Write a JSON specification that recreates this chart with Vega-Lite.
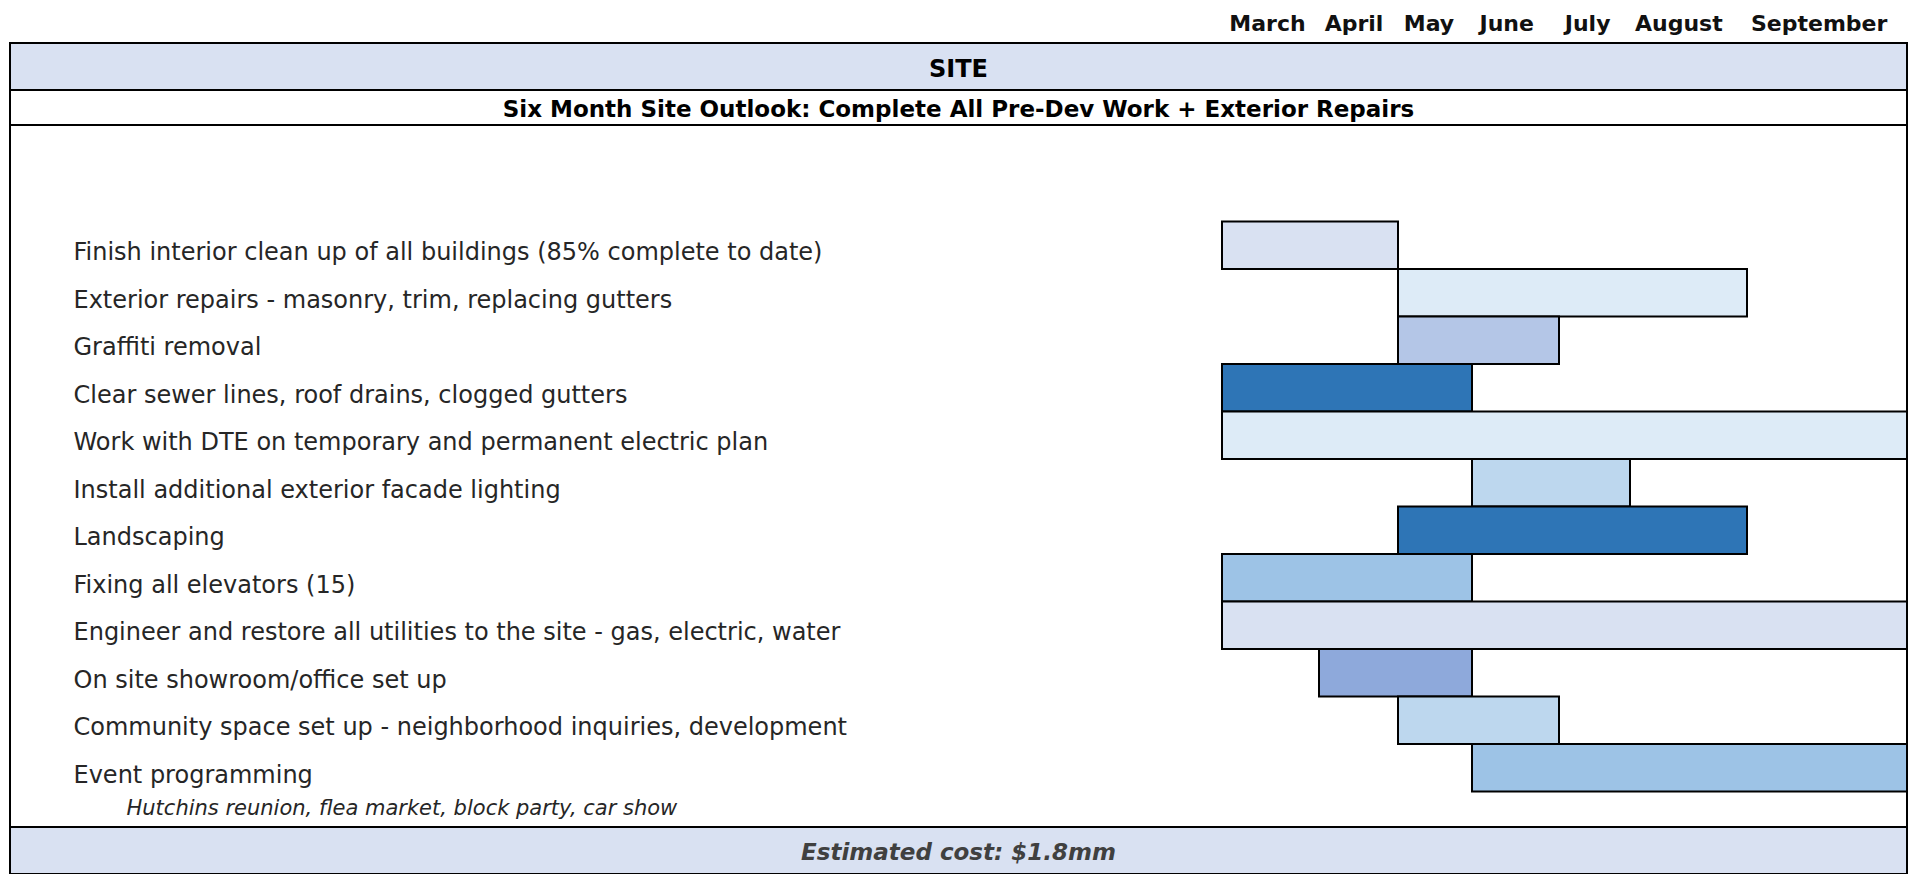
{
  "$schema": "https://vega.github.io/schema/vega-lite/v6.json",
  "padding": {"left": 9, "top": 0, "right": 0, "bottom": 0},
  "background": "white",
  "spacing": 0,
  "bounds": "flush",
  "datasets": {
    "months": [
      {"month": "March", "num": 3},
      {"month": "April", "num": 4},
      {"month": "May", "num": 5},
      {"month": "June", "num": 6},
      {"month": "July", "num": 7},
      {"month": "August", "num": 8},
      {"month": "September", "num": 9}
    ],
    "headers": [
      {"part": "section", "text": "SITE"},
      {"part": "subtitle", "text": "Six Month Site Outlook: Complete All Pre-Dev Work + Exterior Repairs"},
      {"part": "footer", "text": "Estimated cost: $1.8mm"}
    ],
    "tasks": [
      {"task": "Finish interior clean up of all buildings (85% complete to date)", "start": 3, "end": 5, "tone": "accent1-80", "note": ""},
      {"task": "Exterior repairs  - masonry,  trim, replacing gutters", "start": 5, "end": 9, "tone": "accent5-80", "note": ""},
      {"task": "Graffiti removal", "start": 5, "end": 7, "tone": "accent1-60", "note": ""},
      {"task": "Clear sewer lines, roof drains, clogged gutters", "start": 3, "end": 6, "tone": "accent5-dark", "note": ""},
      {"task": "Work with DTE on temporary and permanent electric plan", "start": 3, "end": 10, "tone": "accent5-80", "note": ""},
      {"task": "Install additional exterior facade lighting", "start": 6, "end": 8, "tone": "accent5-60", "note": ""},
      {"task": "Landscaping", "start": 5, "end": 9, "tone": "accent5-dark", "note": ""},
      {"task": "Fixing all elevators (15)", "start": 3, "end": 6, "tone": "accent5-40", "note": ""},
      {"task": "Engineer and restore all utilities to the site  - gas, electric, water", "start": 3, "end": 10, "tone": "accent1-80", "note": ""},
      {"task": "On site showroom/office set up", "start": 4, "end": 6, "tone": "accent1-40", "note": ""},
      {"task": "Community space set up - neighborhood inquiries, development", "start": 5, "end": 7, "tone": "accent5-60", "note": ""},
      {"task": "Event programming", "start": 6, "end": 10, "tone": "accent5-40", "note": "Hutchins reunion, flea market, block party, car show"}
    ]
  },
  "vconcat": [
    {
      "width": 1897,
      "height": 43,
      "data": {"name": "months"},
      "mark": {"type": "text", "font": "DejaVu Sans", "fontWeight": "bold", "fontSize": 22, "baseline": "alphabetic", "dy": 9, "color": "#111111"},
      "encoding": {
        "x": {"field": "num", "type": "quantitative", "axis": null,
              "scale": {"domain": [3, 4, 5, 6, 7, 8, 9], "range": [1257.5, 1344, 1419, 1496.7, 1577.6, 1668.8, 1809.2], "nice": false, "zero": false}},
        "text": {"field": "month"}
      },
      "view": {"stroke": null}
    },
    {
      "width": 1897,
      "height": 47,
      "data": {"name": "headers"},
      "transform": [{"filter": "datum.part == 'section'"}],
      "mark": {"type": "text", "font": "DejaVu Sans", "fontWeight": "bold", "fontSize": 24, "baseline": "alphabetic", "dy": 10, "color": "#000000"},
      "encoding": {"text": {"field": "text"}},
      "view": {"fill": "#D9E1F2", "stroke": "#000000", "strokeWidth": 2}
    },
    {
      "width": 1897,
      "height": 35,
      "data": {"name": "headers"},
      "transform": [{"filter": "datum.part == 'subtitle'"}],
      "mark": {"type": "text", "font": "DejaVu Sans", "fontWeight": "bold", "fontSize": 23, "baseline": "alphabetic", "dy": 9, "color": "#000000"},
      "encoding": {"text": {"field": "text"}},
      "view": {"fill": "#FFFFFF", "stroke": "#000000", "strokeWidth": 2}
    },
    {
      "width": 1897,
      "height": 702,
      "data": {"name": "tasks"},
      "view": {"fill": "#FFFFFF", "stroke": "#000000", "strokeWidth": 2},
      "layer": [
        {
          "mark": {"type": "bar", "stroke": "#000000", "strokeWidth": 2},
          "encoding": {
            "y": {"field": "task", "type": "nominal", "sort": null,
                  "scale": {"paddingInner": 0, "paddingOuter": 0, "range": [96.5, 666.5]},
                  "axis": {"orient": "left", "title": null, "ticks": false, "domain": false, "grid": false,
                           "labelAlign": "left", "labelBaseline": "alphabetic", "labelPadding": -63, "labelOffset": 15,
                           "labelFont": "DejaVu Sans", "labelFontSize": 24, "labelColor": "#262626",
                           "labelLimit": 2000, "labelOverlap": false, "labelBound": false}},
            "x": {"field": "start", "type": "quantitative", "axis": null,
                  "scale": {"domain": [3, 4, 5, 6, 7, 8, 9, 10], "range": [1212, 1309, 1388, 1462, 1549, 1620, 1737, 1897], "nice": false, "zero": false}},
            "x2": {"field": "end"},
            "color": {"field": "tone", "type": "nominal", "legend": null,
                      "scale": {"domain": ["accent1-80", "accent5-80", "accent1-60", "accent5-dark", "accent5-60", "accent5-40", "accent1-40"],
                                "range": ["#D9E1F2", "#DDEBF7", "#B4C6E7", "#2E75B6", "#BDD7EE", "#9DC3E6", "#8EA9DB"]}}
          }
        },
        {
          "mark": {"type": "point", "opacity": 0},
          "encoding": {
            "y": {"field": "task", "type": "nominal", "sort": null,
                  "axis": {"orient": "right", "title": null, "ticks": false, "domain": false, "grid": false,
                           "labelExpr": "pluck(data('tasks'), 'note')[indexof(pluck(data('tasks'), 'task'), datum.value)]",
                           "labelAlign": "left", "labelBaseline": "alphabetic", "labelPadding": -1781, "labelOffset": 47,
                           "labelFont": "DejaVu Sans", "labelFontStyle": "italic", "labelFontSize": 21, "labelColor": "#262626",
                           "labelLimit": 2000, "labelOverlap": false, "labelBound": false}}
          }
        }
      ],
      "resolve": {"axis": {"y": "independent"}}
    },
    {
      "width": 1897,
      "height": 47,
      "data": {"name": "headers"},
      "transform": [{"filter": "datum.part == 'footer'"}],
      "mark": {"type": "text", "font": "DejaVu Sans", "fontWeight": "bold", "fontStyle": "italic", "fontSize": 23, "baseline": "alphabetic", "dy": 9, "color": "#404040"},
      "encoding": {"text": {"field": "text"}},
      "view": {"fill": "#D9E1F2", "stroke": "#000000", "strokeWidth": 2}
    }
  ],
  "resolve": {"scale": {"x": "independent", "y": "independent", "color": "independent"}},
  "config": {"view": {"stroke": null}}
}
